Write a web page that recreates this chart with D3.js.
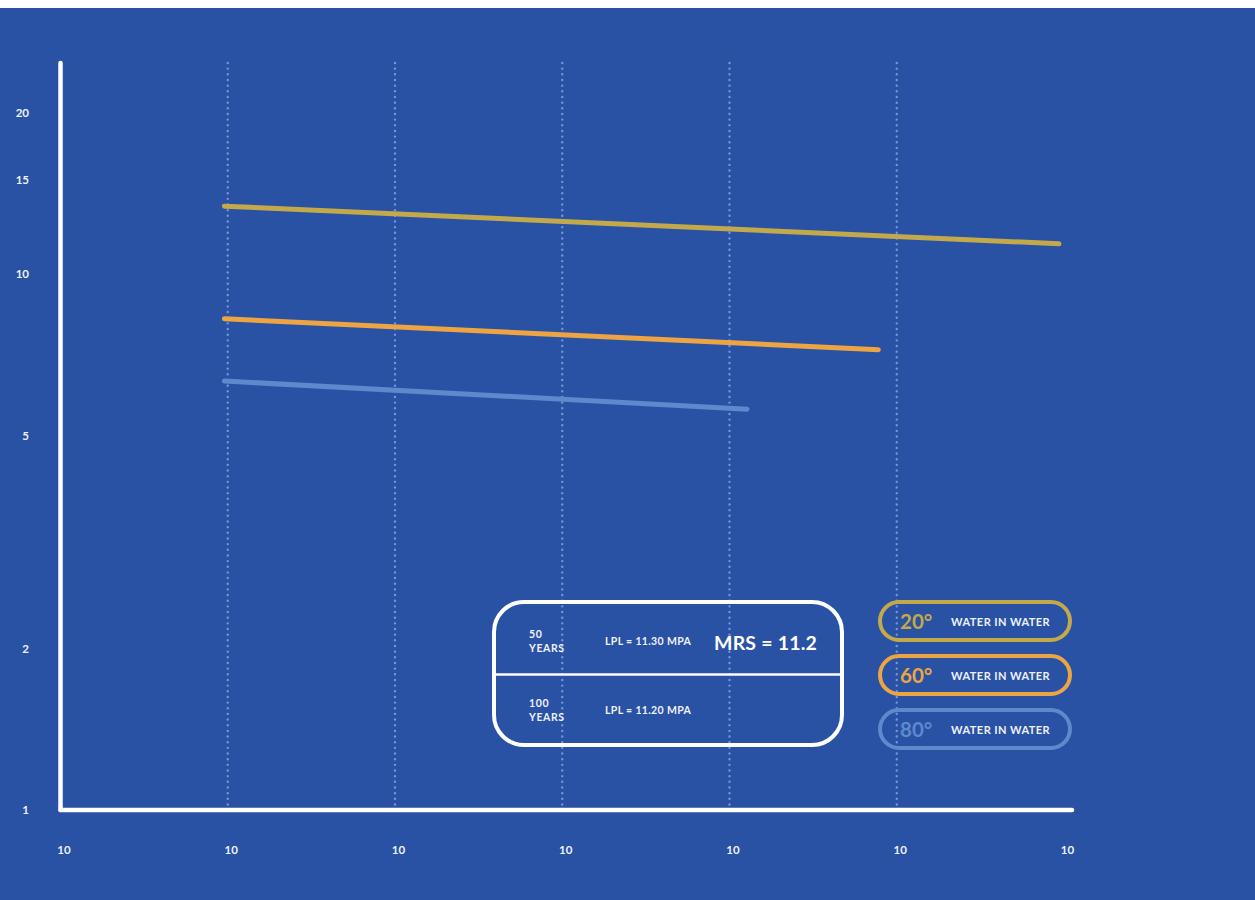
<!DOCTYPE html>
<html>
<head>
<meta charset="utf-8">
<script src="https://cdn.jsdelivr.net/npm/d3@7"></script>
<style>
  html, body { margin: 0; padding: 0; background: #ffffff; }
  svg { display: block; }
  text { font-family: Lato, "Open Sans", sans-serif; }
</style>
</head>
<body>
<script>
// ---------- data ----------
const yTickValues = [1, 2, 5, 10, 15, 20];
const xTickValues = [0, 1, 2, 3, 4, 5, 6];
const xTickLabels = ["10", "10", "10", "10", "10", "10", "10"];
const gridValues = [1, 2, 3, 4, 5];

const seriesNames = ["20°", "60°", "80°"];
const seriesLabel = "WATER IN WATER";
const series20 = [[0.98, 13.4], [5.97, 11.4]];
const series60 = [[0.98, 8.26], [4.89, 7.23]];
const series80 = [[0.98, 6.32], [4.105, 5.6]];
const seriesColors = ["#C4A94B", "#ECA542", "#5E89CD"];

const boxRows = [
  { years: ["50", "YEARS"], lpl: "LPL = 11.30 MPA" },
  { years: ["100", "YEARS"], lpl: "LPL = 11.20 MPA" }
];
const mrsLabel = "MRS = 11.2";

// ---------- layout ----------
const W = 1255, H = 900;
const bg = "#2A52A4";
const svg = d3.select("body").append("svg").attr("width", W).attr("height", H);
svg.append("rect").attr("x", 0).attr("y", 0).attr("width", W).attr("height", H).attr("fill", "#ffffff");
svg.append("rect").attr("x", 0).attr("y", 8).attr("width", W).attr("height", H - 8).attr("fill", bg);

const x = d3.scaleLinear().domain([0, 6]).range([60.5, 1064]);
const y = d3.scaleLog().domain([1, 20]).range([810, 113]);
const topY = 63;
const labelColor = "#EEF1F8";

// gridlines (dotted)
svg.append("g").selectAll("line").data(gridValues).join("line")
  .attr("x1", d => x(d)).attr("x2", d => x(d))
  .attr("y1", topY).attr("y2", 808)
  .attr("stroke", "#7597D6").attr("stroke-width", 2.4)
  .attr("stroke-linecap", "round")
  .attr("stroke-dasharray", "0.01,5.65");

// y tick labels
svg.append("g").selectAll("text").data(yTickValues).join("text")
  .attr("x", 29).attr("y", d => y(d))
  .attr("dy", "0.36em")
  .attr("text-anchor", "end")
  .attr("font-size", 11.5).attr("font-weight", 700)
  .attr("fill", labelColor)
  .text(d => d3.format("d")(d));

// x tick labels
svg.append("g").selectAll("text").data(xTickValues).join("text")
  .attr("x", d => x(d) + 3.5).attr("y", 854)
  .attr("text-anchor", "middle")
  .attr("font-size", 11.5).attr("font-weight", 700)
  .attr("fill", labelColor)
  .text((d, i) => xTickLabels[i]);

// axes
svg.append("line")
  .attr("x1", x(0)).attr("x2", x(0)).attr("y1", topY).attr("y2", y(1))
  .attr("stroke", "#fff").attr("stroke-width", 4.5).attr("stroke-linecap", "round");
svg.append("line")
  .attr("x1", x(0)).attr("x2", x(6) + 8).attr("y1", y(1)).attr("y2", y(1))
  .attr("stroke", "#fff").attr("stroke-width", 4.5).attr("stroke-linecap", "round");

// series lines
const line = d3.line().x(d => x(d[0])).y(d => y(d[1]));
[series20, series60, series80].forEach((s, i) => {
  svg.append("path").datum(s)
    .attr("d", line)
    .attr("fill", "none")
    .attr("stroke", seriesColors[i])
    .attr("stroke-width", 5)
    .attr("stroke-linecap", "round");
});

// info box
const box = svg.append("g");
box.append("rect").attr("x", 494).attr("y", 602).attr("width", 348).attr("height", 143)
  .attr("rx", 30).attr("fill", "none").attr("stroke", "#fff").attr("stroke-width", 4);
box.append("line").attr("x1", 494).attr("x2", 842).attr("y1", 674.5).attr("y2", 674.5)
  .attr("stroke", "#fff").attr("stroke-width", 2.5);
const rowBase = [638, 707];
boxRows.forEach((r, i) => {
  const t = box.append("text").attr("x", 529).attr("y", rowBase[i])
    .attr("font-size", 10.5).attr("font-weight", 700).attr("fill", labelColor)
    .attr("letter-spacing", 0.6);
  t.append("tspan").attr("x", 529).text(r.years[0]);
  t.append("tspan").attr("x", 529).attr("dy", 13.5).text(r.years[1]);
  box.append("text").attr("x", 605).attr("y", rowBase[i] + 7)
    .attr("font-size", 10.5).attr("font-weight", 700).attr("fill", labelColor)
    .attr("letter-spacing", 0.35)
    .text(r.lpl);
});
box.append("text").attr("x", 714).attr("y", 650)
  .attr("font-size", 19.5).attr("font-weight", 700).attr("fill", "#ffffff")
  .attr("letter-spacing", 0.2)
  .text(mrsLabel);

// legend pills
const legend = svg.append("g");
const legendY0 = 621, legendStep = 54;
seriesNames.forEach((name, i) => {
  const cy = legendY0 + i * legendStep;
  const g = legend.append("g");
  g.append("rect").attr("x", 880).attr("y", cy - 19).attr("width", 190).attr("height", 38)
    .attr("rx", 19).attr("fill", "none").attr("stroke", seriesColors[i]).attr("stroke-width", 4);
  g.append("text").attr("x", 900).attr("y", cy + 8)
    .attr("font-size", 20.5).attr("font-weight", 700).attr("fill", seriesColors[i])
    .text(name);
  g.append("text").attr("x", 951).attr("y", cy + 5)
    .attr("font-size", 11).attr("font-weight", 700).attr("fill", labelColor)
    .attr("letter-spacing", 0.45)
    .text(seriesLabel);
});
</script>
</body>
</html>
